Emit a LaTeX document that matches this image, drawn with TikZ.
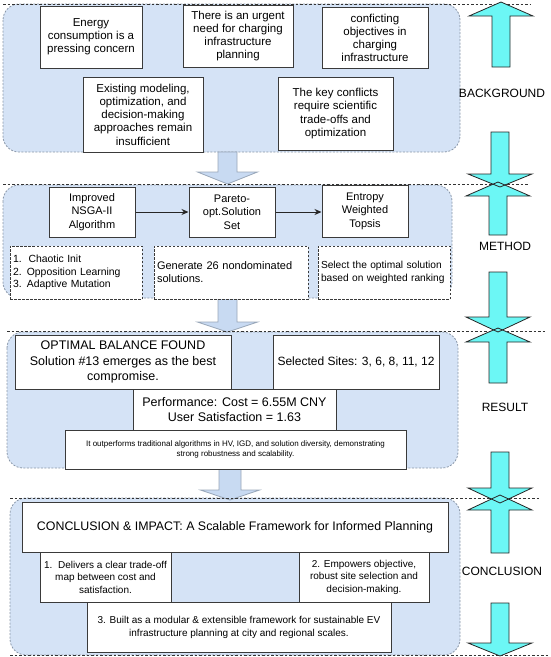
\documentclass[tikz,border=0pt]{standalone}
\usepackage{fontspec}
\setmainfont{Liberation Sans}
\usetikzlibrary{arrows.meta}
\definecolor{secfill}{HTML}{D5E3F6}
\definecolor{secline}{HTML}{8A97A8}
\definecolor{boxline}{HTML}{3A3A3A}
\definecolor{cyanarr}{HTML}{6CF7F5}
\definecolor{bluearr}{HTML}{C8DAF2}
\definecolor{bluearrline}{HTML}{98A6B8}
\tikzset{
  section/.style={draw=secline, fill=secfill, dash pattern=on 2pt off 1.5pt, rounded corners=16pt, line width=0.8pt},
  sepline/.style={draw=black!80, dash pattern=on 2.5pt off 2pt, line width=0.9pt},
  solidbox/.style={draw=boxline, fill=white, line width=1pt, inner sep=2pt, align=center},
  dashbox/.style={draw=boxline, fill=white, line width=1pt, dash pattern=on 2.5pt off 1.5pt, inner sep=3pt, align=left},
  cyanfill/.style={fill=cyanarr},
  cyanline/.style={draw=black!85, line width=0.8pt, line join=miter},
  bluearrow/.style={draw=bluearrline, fill=bluearr, line width=0.8pt},
  sidelabel/.style={font=\fontsize{12}{14}\selectfont, inner sep=0pt},
  flowarrow/.style={-{Stealth[length=7pt,width=6pt]}, line width=1pt, draw=black!85},
}
% up arrow: style, x, tip y, head base y, bottom y
\newcommand\cyanup[5]{\path[#1] (#2,#3) -- (#2+32,#4) -- (#2+9,#4) -- (#2+9,#5) -- (#2-9,#5) -- (#2-9,#4) -- (#2-32,#4) -- cycle;}
% down arrow: style, x, top y, head base y, tip y
\newcommand\cyandown[5]{\path[#1] (#2-9,#3) -- (#2+9,#3) -- (#2+9,#4) -- (#2+32,#4) -- (#2,#5) -- (#2-32,#4) -- (#2-9,#4) -- cycle;}
% light blue down arrow: x, shaft half, head half, top, head base, tip
\newcommand\bluedown[6]{\path[bluearrow] (#1-#2,#4) -- (#1+#2,#4) -- (#1+#2,#5) -- (#1+#3,#5) -- (#1,#6) -- (#1-#3,#5) -- (#1-#2,#5) -- cycle;}
\begin{document}
\begin{tikzpicture}[x=1pt,y=-1pt]
\useasboundingbox (0,0) rectangle (550,657);

% sections
\path[section] (3,4) rectangle (460,152);
\path[section] (3,185) rectangle (452,298);
\path[section] (7,332) rectangle (458,468);
\path[section] (10,498) rectangle (460,655);

% light blue arrows between sections
\bluedown{227.5}{9.5}{30}{152}{172}{184}
\bluedown{227.5}{9.5}{30}{298}{322}{332}
\bluedown{230}{11}{29.5}{469}{490}{500}

% separator lines
\draw[sepline] (3,4) -- (530,4);
\draw[sepline] (3,184.5) -- (528,184.5);
\draw[sepline] (7,331.5) -- (545,331.5);
\draw[sepline] (10,498) -- (540,498);
\draw[sepline] (10,655.5) -- (548,655.5);

% BACKGROUND
\node[solidbox, minimum width=102pt, minimum height=62pt, font=\fontsize{11.5}{13}\selectfont] (energy) at (91,37) {Energy\\consumption is a\\pressing concern};
\node[solidbox, minimum width=110pt, minimum height=62pt, font=\fontsize{11.5}{13}\selectfont] (urgent) at (238,36) {There is an urgent\\need for charging\\infrastructure\\planning};
\node[solidbox, minimum width=106pt, minimum height=61pt, font=\fontsize{11.5}{13}\selectfont] (conflict) at (375,37.5) {conficting\\objectives in\\charging\\infrastructure};
\node[solidbox, minimum width=120pt, minimum height=75pt, font=\fontsize{11.5}{13.3}\selectfont] (existing) at (143,114.5) {Existing modeling,\\optimization, and\\decision-making\\approaches remain\\insufficient};
\node[solidbox, minimum width=115pt, minimum height=73pt, font=\fontsize{11.5}{13.3}\selectfont] (keyconf) at (335.5,113.5) {The key conflicts\\require scientific\\trade-offs and\\optimization};

% METHOD
\node[solidbox, minimum width=86pt, minimum height=50pt, font=\fontsize{11}{13.5}\selectfont] (nsga) at (92,212) {Improved\\NSGA-II\\Algorithm};
\node[solidbox, minimum width=86pt, minimum height=50pt, font=\fontsize{11}{13.5}\selectfont] (pareto) at (232,212) {Pareto-\\opt.Solution\\Set};
\node[solidbox, minimum width=86pt, minimum height=52pt, font=\fontsize{11}{13.5}\selectfont] (entropy) at (365,211) {Entropy\\Weighted\\Topsis};
\draw[flowarrow] (nsga.east) -- (pareto.west);
\draw[flowarrow] (pareto.east) -- (entropy.west |- pareto.east);
\node[dashbox, text width=126pt, minimum height=53pt, font=\fontsize{10.4}{12.8}\selectfont] (ops) at (76,272.5) {1.\ \ Chaotic Init\\2. Opposition Learning\\3. Adaptive Mutation};
\node[dashbox, text width=148pt, minimum height=53pt, font=\fontsize{11}{13}\selectfont] (gen) at (231,272.5) {Generate 26 nondominated\\solutions.};
\node[dashbox, text width=126pt, minimum height=53pt, font=\fontsize{10.2}{13}\selectfont] (select) at (384,272.5) {Select the optimal solution\\based on weighted ranking};

% RESULT
\node[solidbox, minimum width=216pt, minimum height=54pt, font=\fontsize{12.5}{15.5}\selectfont] (optimal) at (123,362) {OPTIMAL BALANCE FOUND\\Solution \#13 emerges as the best\\compromise.};
\node[solidbox, minimum width=166pt, minimum height=54pt, font=\fontsize{12}{14}\selectfont] (sites) at (356,362) {Selected Sites: 3, 6, 8, 11, 12};
\node[solidbox, minimum width=203pt, minimum height=41pt, font=\fontsize{12.5}{14.3}\selectfont] (perf) at (234.5,409.5) {Performance: Cost = 6.55M CNY\\User Satisfaction = 1.63};
\node[solidbox, minimum width=341pt, minimum height=39pt, font=\fontsize{8}{10}\selectfont] (outperf) at (235.5,449.5) {It outperforms traditional algorithms in HV, IGD, and solution diversity, demonstrating\\strong robustness and scalability.};

% CONCLUSION
\node[solidbox, minimum width=426pt, minimum height=50pt, font=\fontsize{12.4}{15}\selectfont] (title) at (235,527) {CONCLUSION \& IMPACT: A Scalable Framework for Informed Planning};
\node[solidbox, minimum width=131pt, minimum height=50pt, font=\fontsize{10}{12.5}\selectfont] (c1) at (105.5,577) {1.\ \ Delivers a clear trade-off\\map between cost and\\satisfaction.};
\node[solidbox, minimum width=130pt, minimum height=50pt, font=\fontsize{10}{12.5}\selectfont] (c2) at (364,577) {2. Empowers objective,\\robust site selection and\\decision-making.};
\node[solidbox, minimum width=304pt, minimum height=50pt, font=\fontsize{10}{13}\selectfont] (c3) at (239,627) {3. Built as a modular \& extensible framework for sustainable EV\\infrastructure planning at city and regional scales.};

% right-hand cyan arrows: fills first, then outlines
\foreach \st in {cyanfill,cyanline}{
  \cyanup{\st}{501}{2}{16}{67}
  \cyandown{\st}{500}{132}{174}{187}
  \cyanup{\st}{498}{182}{196}{235}
  \cyandown{\st}{498}{272}{317}{332}
  \cyanup{\st}{498}{328}{342}{383}
  \cyandown{\st}{500}{452}{488}{503}
  \cyanup{\st}{500}{495}{510}{553}
  \cyandown{\st}{500}{603}{643}{656}
}

% side labels
\node[sidelabel] (lbg) at (502,93) {BACKGROUND};
\node[sidelabel] (lmethod) at (505,246) {METHOD};
\node[sidelabel] (lresult) at (505,407) {RESULT};
\node[sidelabel] (lconc) at (502,571) {CONCLUSION};
\end{tikzpicture}
\end{document}
